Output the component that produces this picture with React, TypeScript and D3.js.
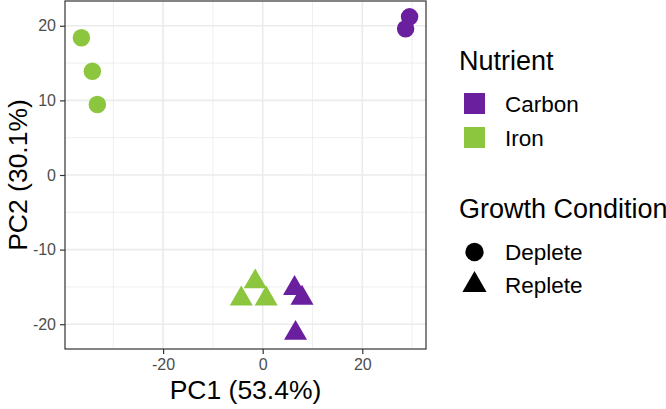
import React, { useEffect, useRef } from "react";
import * as d3 from "d3";

// PCA scores
const samples = ["C-D1", "C-D2", "I-D1", "I-D2", "I-D3", "C-R1", "C-R2", "C-R3", "I-R1", "I-R2", "I-R3"];
const pc1 = [29.5, 28.7, -36.4, -34.2, -33.2, 6.4, 7.9, 6.6, -1.5, -4.3, 0.7];
const pc2 = [21.2, 19.6, 18.4, 13.9, 9.45, -15.2, -16.5, -21.2, -14.3, -16.6, -16.6];
const nutrient = ["Carbon", "Carbon", "Iron", "Iron", "Iron", "Carbon", "Carbon", "Carbon", "Iron", "Iron", "Iron"];
const condition = ["Deplete", "Deplete", "Deplete", "Deplete", "Deplete", "Replete", "Replete", "Replete", "Replete", "Replete", "Replete"];

const nutrients = ["Carbon", "Iron"];
const conditions = ["Deplete", "Replete"];
const nutrientColors = ["#6a1f9e", "#8cc63f"];

const W = 666;
const H = 409;
const FONT = "'Liberation Sans', Arial, Helvetica, sans-serif";

const App = () => {
  const svgRef = useRef(null);

  useEffect(() => {
    const svg = d3.select(svgRef.current);
    svg.selectAll("*").remove();

    const panel = { left: 65, top: 1, right: 426, bottom: 349 };

    const expand = (ext) => {
      const pad = (ext[1] - ext[0]) * 0.05;
      return [ext[0] - pad, ext[1] + pad];
    };

    const x = d3.scaleLinear().domain(expand(d3.extent(pc1))).range([panel.left, panel.right]);
    const y = d3.scaleLinear().domain(expand(d3.extent(pc2))).range([panel.bottom, panel.top]);

    const color = d3.scaleOrdinal().domain(nutrients).range(nutrientColors);
    const shape = d3.scaleOrdinal().domain(conditions).range([d3.symbolCircle, d3.symbolTriangle]);
    const size = d3.scaleOrdinal().domain(conditions).range([240, 230]);

    const g = svg.append("g");

    // panel background
    g.append("rect")
      .attr("x", panel.left)
      .attr("y", panel.top)
      .attr("width", panel.right - panel.left)
      .attr("height", panel.bottom - panel.top)
      .attr("fill", "white");

    const xMajor = [-20, 0, 20];
    const xMinor = [-30, -10, 10, 30];
    const yMajor = [-20, -10, 0, 10, 20];
    const yMinor = [-15, -5, 5, 15];

    g.selectAll(".xminor")
      .data(xMinor)
      .enter()
      .append("line")
      .attr("x1", (d) => x(d))
      .attr("x2", (d) => x(d))
      .attr("y1", panel.top)
      .attr("y2", panel.bottom)
      .attr("stroke", "#ebebeb")
      .attr("stroke-width", 0.8);

    g.selectAll(".yminor")
      .data(yMinor)
      .enter()
      .append("line")
      .attr("y1", (d) => y(d))
      .attr("y2", (d) => y(d))
      .attr("x1", panel.left)
      .attr("x2", panel.right)
      .attr("stroke", "#ebebeb")
      .attr("stroke-width", 0.8);

    g.selectAll(".xmajor")
      .data(xMajor)
      .enter()
      .append("line")
      .attr("x1", (d) => x(d))
      .attr("x2", (d) => x(d))
      .attr("y1", panel.top)
      .attr("y2", panel.bottom)
      .attr("stroke", "#ebebeb")
      .attr("stroke-width", 1.6);

    g.selectAll(".ymajor")
      .data(yMajor)
      .enter()
      .append("line")
      .attr("y1", (d) => y(d))
      .attr("y2", (d) => y(d))
      .attr("x1", panel.left)
      .attr("x2", panel.right)
      .attr("stroke", "#ebebeb")
      .attr("stroke-width", 1.6);

    // points
    const idx = d3.range(samples.length);
    g.selectAll(".pt")
      .data(idx)
      .enter()
      .append("path")
      .attr("transform", (i) => `translate(${x(pc1[i])},${y(pc2[i])})`)
      .attr("d", (i) => d3.symbol().type(shape(condition[i])).size(size(condition[i]))())
      .attr("fill", (i) => color(nutrient[i]));

    // panel border
    g.append("rect")
      .attr("x", panel.left)
      .attr("y", panel.top)
      .attr("width", panel.right - panel.left)
      .attr("height", panel.bottom - panel.top)
      .attr("fill", "none")
      .attr("stroke", "#333333")
      .attr("stroke-width", 1.2);

    // axes
    const xAxis = d3.axisBottom(x).tickValues(xMajor).tickSize(5).tickPadding(5).tickFormat(d3.format("d"));
    const yAxis = d3.axisLeft(y).tickValues(yMajor).tickSize(5).tickPadding(4).tickFormat(d3.format("d"));

    const gx = g.append("g").attr("transform", `translate(0,${panel.bottom})`).call(xAxis);
    const gy = g.append("g").attr("transform", `translate(${panel.left},0)`).call(yAxis);

    [gx, gy].forEach((a) => {
      a.select(".domain").remove();
      a.selectAll(".tick line").attr("stroke", "#333333").attr("stroke-width", 1.2);
      a.selectAll(".tick text")
        .attr("fill", "#4d4d4d")
        .style("font-family", FONT)
        .style("font-size", "16px");
    });
    gx.selectAll(".tick text").text((d) => (d < 0 ? "-" + Math.abs(d) : d));
    gy.selectAll(".tick text").text((d) => (d < 0 ? "-" + Math.abs(d) : d));

    // axis titles
    g.append("text")
      .attr("x", (panel.left + panel.right) / 2)
      .attr("y", 399)
      .attr("text-anchor", "middle")
      .style("font-family", FONT)
      .style("font-size", "26.5px")
      .attr("fill", "black")
      .text("PC1 (53.4%)");

    g.append("text")
      .attr("transform", `translate(27,${(panel.top + panel.bottom) / 2}) rotate(-90)`)
      .attr("text-anchor", "middle")
      .style("font-family", FONT)
      .style("font-size", "26.5px")
      .attr("fill", "black")
      .text("PC2 (30.1%)");

    // legends
    const leg = g.append("g");
    leg.append("text")
      .attr("x", 459)
      .attr("y", 70)
      .style("font-family", FONT)
      .style("font-size", "27px")
      .text("Nutrient");

    const nItems = leg.selectAll(".nitem")
      .data(nutrients)
      .enter()
      .append("g")
      .attr("transform", (d, i) => `translate(0,${93 + i * 34})`);
    nItems.append("rect")
      .attr("x", 464)
      .attr("y", 0)
      .attr("width", 21)
      .attr("height", 21)
      .attr("fill", (d) => color(d));
    nItems.append("text")
      .attr("x", 505)
      .attr("y", 19)
      .style("font-family", FONT)
      .style("font-size", "22.5px")
      .text((d) => d);

    leg.append("text")
      .attr("x", 459)
      .attr("y", 218)
      .style("font-family", FONT)
      .style("font-size", "27px")
      .text("Growth Condition");

    const cItems = leg.selectAll(".citem")
      .data(conditions)
      .enter()
      .append("g")
      .attr("transform", (d, i) => `translate(0,${252 + i * 33})`);
    cItems.append("path")
      .attr("transform", "translate(474.5,0)")
      .attr("d", (d) => d3.symbol().type(shape(d)).size(size(d) * 1.1)())
      .attr("fill", "black");
    cItems.append("text")
      .attr("x", 505)
      .attr("y", 8)
      .style("font-family", FONT)
      .style("font-size", "22.5px")
      .text((d) => d);
  }, []);

  return (
    <svg
      ref={svgRef}
      width={W}
      height={H}
      style={{ position: "absolute", left: 0, top: 0, background: "white" }}
    ></svg>
  );
};

export default App;
